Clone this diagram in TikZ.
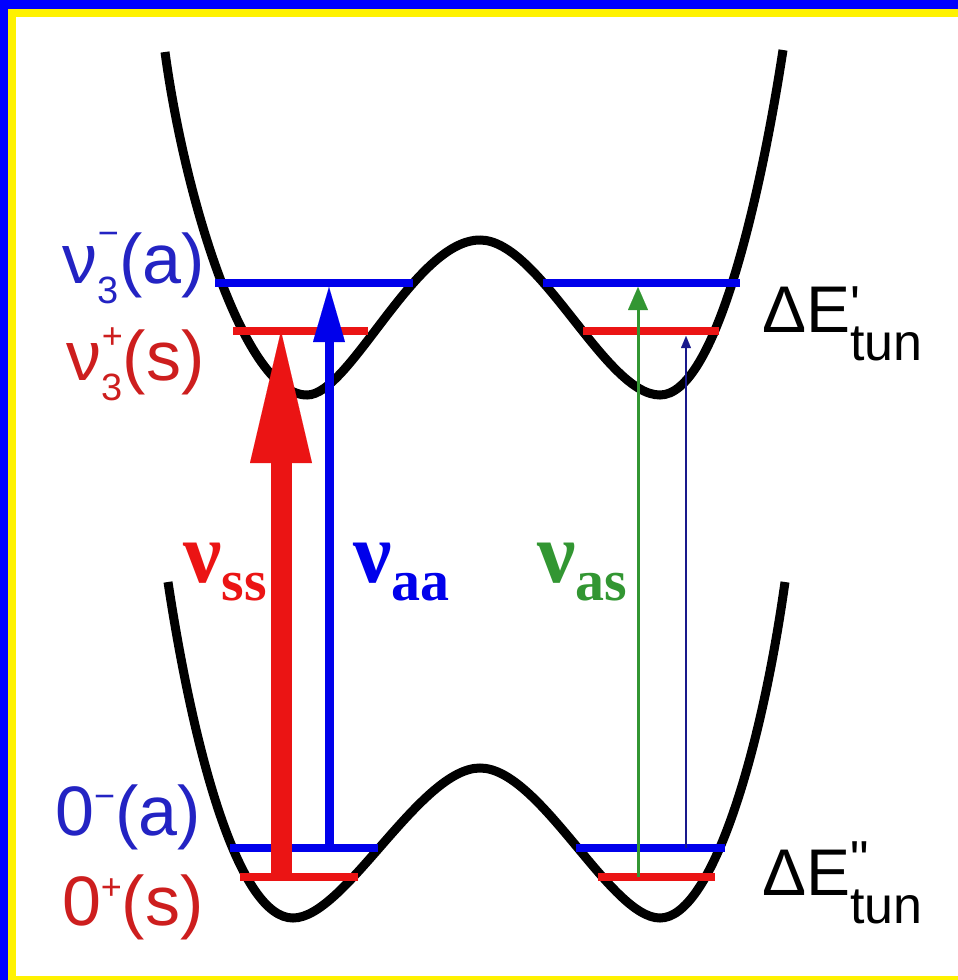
\documentclass[tikz,border=0pt]{standalone}
\usepackage{fontspec}
\setmainfont{Liberation Sans}
\newfontfamily\timesfont{Liberation Serif}
\usetikzlibrary{arrows.meta}

\definecolor{lvlblue}{RGB}{0,0,235}
\definecolor{lvlred}{RGB}{235,20,20}
\definecolor{lblblue}{RGB}{35,35,195}
\definecolor{lblred}{RGB}{205,30,30}
\definecolor{nugreen}{RGB}{50,150,50}
\definecolor{arrnavy}{RGB}{25,25,140}

% scripts for the level labels
\newcommand{\scr}[3]{\makebox[0pt][l]{\raisebox{#1}{\fontsize{18}{18}\selectfont #2}}%
  \raisebox{-10pt}{\fontsize{19}{19}\selectfont #3}}
\newcommand{\nusub}[1]{{\fontsize{43}{43}\selectfont ν}\raisebox{-9pt}{\fontsize{29}{29}\selectfont #1}}

\begin{document}
\begin{tikzpicture}[x=0.5pt,y=-0.5pt,
  well/.style={line width=4.5pt,black},
  level/.style={line width=4pt},
  lbl/.style={inner sep=0pt,anchor=base east,font=\fontsize{35}{35}\selectfont},
  nulbl/.style={inner sep=0pt,anchor=base west,font=\timesfont\bfseries},
  tunlbl/.style={inner sep=0pt,anchor=base west,font=\fontsize{33}{33}\selectfont}]
  % frame
  \fill[blue] (0,0) rectangle (958,980);
  \fill[yellow] (8,9) rectangle (958,980);
  \fill[white] (16,17) rectangle (958,976);
  \useasboundingbox (0,0) rectangle (958,980);

  % potentials
  \draw[well] (165,52) .. controls (185,200) and (245,395) .. (307,395)
    .. controls (350,395) and (415,240) .. (480,240)
    .. controls (540,240) and (605,395) .. (660,395)
    .. controls (715,395) and (760,200) .. (783,50);
  \draw[well] (168,582) .. controls (195,760) and (240,918) .. (293,918)
    .. controls (345,918) and (420,768) .. (480,768)
    .. controls (540,768) and (610,918) .. (660,918)
    .. controls (710,918) and (760,760) .. (785,582);

  % levels
  \coordinate (uaL) at (215,283);  \coordinate (uaR) at (413,283);
  \coordinate (ua2L) at (543,283); \coordinate (ua2R) at (740,283);
  \coordinate (usL) at (233,331);  \coordinate (usR) at (368,331);
  \coordinate (us2L) at (583,331); \coordinate (us2R) at (719,331);
  \coordinate (laL) at (230,848);  \coordinate (laR) at (378,848);
  \coordinate (la2L) at (576,848); \coordinate (la2R) at (725,848);
  \coordinate (lsL) at (240,877);  \coordinate (lsR) at (358,877);
  \coordinate (ls2L) at (598,877); \coordinate (ls2R) at (715,877);
  \draw[level,lvlblue] (uaL) -- (uaR) (ua2L) -- (ua2R) (laL) -- (laR) (la2L) -- (la2R);
  \draw[level,lvlred] (usL) -- (usR) (us2L) -- (us2R) (lsL) -- (lsR) (ls2L) -- (ls2R);

  % transitions
  \coordinate (ssLo) at (281,877); \coordinate (ssHi) at (281,331);
  \coordinate (aaLo) at (329,848); \coordinate (aaHi) at (329,287);
  \coordinate (asLo) at (638,877); \coordinate (asHi) at (638,287);
  \coordinate (saLo) at (686,848); \coordinate (saHi) at (686,336);
  \draw[lvlred,line width=10.5pt,-{Triangle[length=66pt,width=31pt,line width=0.01pt]}] (ssLo) -- (ssHi);
  \draw[lvlblue,line width=4.5pt,-{Triangle[length=27.5pt,width=16pt,line width=0.01pt]}] (aaLo) -- (aaHi);
  \draw[nugreen,line width=1.5pt,-{Triangle[length=11.5pt,width=10pt,line width=0.01pt]}] (asLo) -- (asHi);
  \draw[arrnavy,line width=0.8pt,-{Triangle[length=6pt,width=5pt,line width=0.01pt]}] (saLo) -- (saHi);

  % labels
  \node[lbl,lblblue] (nu3a) at (205,283) {ν\scr{19pt}{−}{3}(a)};
  \node[lbl,lblred] (nu3s) at (205,380) {ν\scr{16pt}{+}{3}(s)};
  \node[lbl,lblblue] (zeroa) at (201,835) {0\raisebox{13.5pt}{\fontsize{18}{18}\selectfont −}(a)};
  \node[lbl,lblred] (zeros) at (204,925) {0\raisebox{13pt}{\fontsize{18}{18}\selectfont +}(s)};
  \node[nulbl,lvlred] (nuss) at (183,582) {\nusub{ss}};
  \node[nulbl,lvlblue] (nuaa) at (353,582) {\nusub{aa}};
  \node[nulbl,nugreen] (nuas) at (537,582) {\nusub{as}};
  \node[tunlbl] (tunup) at (762,332) {ΔE\makebox[0pt][l]{\raisebox{5pt}{\fontsize{26}{26}\selectfont\textquotesingle}}\raisebox{-14pt}{\fontsize{26}{26}\selectfont tun}};
  \node[tunlbl] (tunlo) at (762,895) {ΔE\makebox[0pt][l]{\raisebox{9pt}{\fontsize{26}{26}\selectfont\textquotedbl}}\raisebox{-14pt}{\fontsize{26}{26}\selectfont tun}};
\end{tikzpicture}
\end{document}
